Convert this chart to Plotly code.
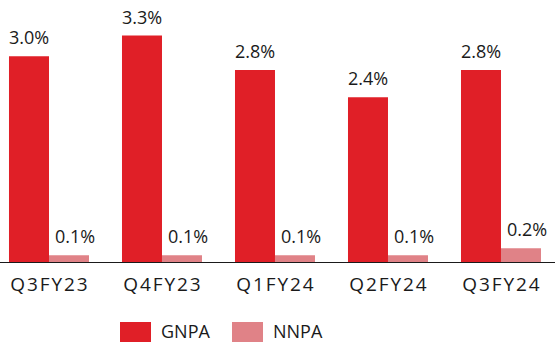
import plotly.graph_objects as go

# Asset-quality ratios by quarter (%)
quarters = ["Q3FY23", "Q4FY23", "Q1FY24", "Q2FY24", "Q3FY24"]
gnpa = [3.0, 3.3, 2.8, 2.4, 2.8]
nnpa = [0.1, 0.1, 0.1, 0.1, 0.2]

RED = "#E01F27"
PINK = "#E08287"
TEXT = "#1A1A1A"
FONT = "Open Sans"

W, H = 555, 343
PLOT_H = 262  # plot area height in px (top margin 0)


def spaced(s):
    # widen the tick labels with hair spaces between characters
    return "\u200a".join(s)


fig = go.Figure()
fig.add_bar(name="GNPA", x=quarters, y=gnpa, marker_color=RED,
            marker_line_width=0, showlegend=False)
fig.add_bar(name="NNPA", x=quarters, y=nnpa, marker_color=PINK,
            marker_line_width=0, showlegend=False)

annotations = []
for q, g, n in zip(quarters, gnpa, nnpa):
    annotations.append(dict(x=q, y=g, xref="x", yref="y", text=f"{g:.1f}%",
                            showarrow=False, xshift=-20, yshift=5,
                            yanchor="bottom", xanchor="center",
                            font=dict(family=FONT, size=18, color=TEXT)))
    annotations.append(dict(x=q, y=n, xref="x", yref="y", text=f"{n:.1f}%",
                            showarrow=False, xshift=26, yshift=5,
                            yanchor="bottom", xanchor="center",
                            font=dict(family=FONT, size=18, color=TEXT)))


def px_x(p):
    return p / W


def px_y(p):
    return 1 - p / PLOT_H


# Legend drawn with large swatches below the axis
shapes = []
legend_items = [("GNPA", RED, 120), ("NNPA", PINK, 232)]
for label, color, left in legend_items:
    shapes.append(dict(type="rect", xref="paper", yref="paper",
                       x0=px_x(left), x1=px_x(left + 31),
                       y0=px_y(322), y1=px_y(342),
                       fillcolor=color, line_width=0))
    annotations.append(dict(x=px_x(left + 40), y=px_y(331), xref="paper",
                            yref="paper", text=label, showarrow=False,
                            xanchor="left", yanchor="middle", borderpad=0,
                            font=dict(family=FONT, size=18, color=TEXT)))

fig.update_layout(
    width=W, height=H,
    margin=dict(l=0, r=0, t=0, b=H - PLOT_H),
    paper_bgcolor="white", plot_bgcolor="white",
    barmode="group", bargap=0.292, bargroupgap=0,
    showlegend=False,
    annotations=annotations, shapes=shapes,
    xaxis=dict(type="category", range=[-0.4336, 4.478],
               tickvals=quarters, ticktext=[spaced(q) for q in quarters],
               showline=True, linecolor="#1A1A1A", linewidth=1.3,
               ticks="", showgrid=False, zeroline=False,
               ticklabelstandoff=5,
               tickfont=dict(family=FONT, size=19, color=TEXT)),
    yaxis=dict(range=[0, PLOT_H / 68.6], visible=False, fixedrange=True),
)

fig.write_html("out.html")
